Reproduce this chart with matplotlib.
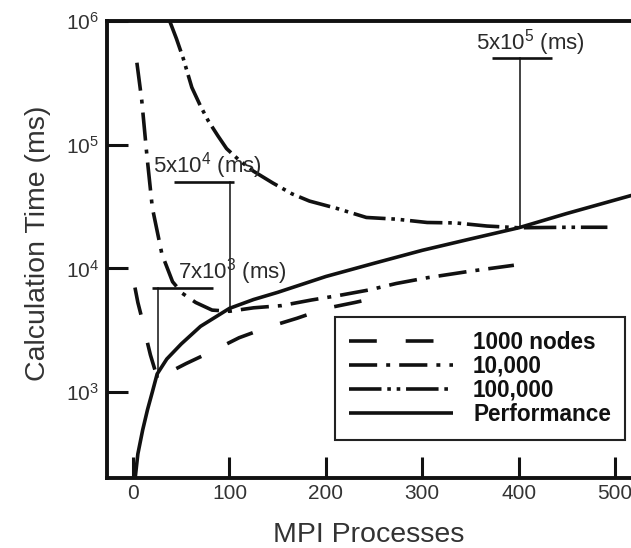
import matplotlib
matplotlib.use("Agg")
import matplotlib.pyplot as plt
from matplotlib.ticker import NullLocator, LogFormatterMathtext

plt.rcParams['font.family'] = ['Liberation Sans', 'DejaVu Sans']
plt.rcParams['mathtext.fontset'] = 'custom'
plt.rcParams['mathtext.rm'] = 'Liberation Sans'
plt.rcParams['mathtext.it'] = 'Liberation Sans'

# ---- data ----
procs_1k = [2, 5, 9, 13, 18, 25, 40, 55, 80, 110, 140, 170, 200, 230, 255]
time_1k = [7000, 5300, 4000, 2900, 2000, 1320, 1480, 1700, 2100, 2750, 3350, 3950, 4750, 5300, 5850]

procs_10k = [4, 9, 14.5, 20, 30, 41, 51, 65, 82, 100, 125, 154, 185, 214, 245, 273, 305, 350, 395]
time_10k = [460000, 230000, 80000, 31000, 13000, 7800, 6300, 5300, 4600, 4500, 4800, 5000, 5550,
            6050, 6700, 7550, 8400, 9500, 10600]

procs_100k = [38, 45, 52, 61, 70, 78, 88, 97, 110, 125, 145, 165, 183, 211, 242, 273, 305, 335,
              367, 400, 450, 492]
time_100k = [1000000, 720000, 500000, 290000, 205000, 156000, 118000, 93000, 75000, 61000, 49000,
             40000, 35000, 30600, 25800, 25000, 23500, 23300, 22000, 21300, 21500, 21500]

procs_perf = [2, 5, 10, 15, 20, 25, 35, 50, 70, 100, 125, 150, 200, 250, 300, 350, 400, 450, 520]
time_perf = [195, 316, 494, 720, 1000, 1400, 1850, 2450, 3400, 4750, 5600, 6400, 8600, 11000,
             14000, 17300, 21300, 27800, 39500]

series_labels = ['1000 nodes', '10,000', '100,000', 'Performance']

# annotations: label, bar y value, bar x range, vertical x, vertical bottom, text x
ann_labels = ['7x10$^3$ (ms)', '5x10$^4$ (ms)', '5x10$^5$ (ms)']
ann_bar_y = [7000, 50000, 500000]
ann_bar_x0 = [20, 43, 372]
ann_bar_x1 = [83, 105, 434]
ann_vert_x = [26, 101, 401]
ann_vert_bottom = [1320, 4500, 21300]
ann_text_x = [47, 21, 356]

x_ticks = [0, 100, 200, 300, 400, 500]
y_ticks = [1e3, 1e4, 1e5, 1e6]

# ---- figure ----
W, H = 631, 548
fig = plt.figure(figsize=(W / 100, H / 100), dpi=100)
ax = fig.add_axes([107 / W, 1 - 478 / H, (673 - 107) / W, (478 - 21) / H])

ink = '#111111'
lw = 2.6
l1, = ax.plot(procs_1k, time_1k, color=ink, lw=lw, dashes=(7.7, 8))
l2, = ax.plot(procs_10k, time_10k, color=ink, lw=lw, dashes=(7.8, 2.5, 1.1, 2.5))
l3, = ax.plot(procs_100k, time_100k, color=ink, lw=lw, dashes=(9, 1.6, 1, 1.6, 1, 1.6))
l4, = ax.plot(procs_perf, time_perf, color=ink, lw=lw, solid_capstyle='butt')

for lab, by, bx0, bx1, vx, vb, tx in zip(ann_labels, ann_bar_y, ann_bar_x0, ann_bar_x1,
                                          ann_vert_x, ann_vert_bottom, ann_text_x):
    ax.plot([bx0, bx1], [by, by], color=ink, lw=1.9, solid_capstyle='butt')
    ax.plot([vx, vx], [by, vb], color=ink, lw=1.1)
    ax.annotate(lab, xy=(tx, by), xytext=(0, 6.5), textcoords='offset points',
                ha='left', va='baseline', fontsize=16, color='#2a2a2a')

ax.set_yscale('log')
ax.set_xlim(-27, 560)
ax.set_ylim(202, 1e6)
ax.set_xticks(x_ticks)
ax.set_yticks(y_ticks)
ax.yaxis.set_minor_locator(NullLocator())
ax.yaxis.set_major_formatter(LogFormatterMathtext())
ax.tick_params(direction='in', length=15, width=2.2, labelsize=15, colors=ink,
               labelcolor='#333333')
ax.tick_params(axis='y', pad=6)
ax.tick_params(axis='x', pad=4)
for s in ['left', 'bottom', 'top']:
    ax.spines[s].set_linewidth(2.8)
    ax.spines[s].set_color(ink)
ax.spines['right'].set_visible(False)

fig.text(369 / W, 1 - 542 / H, 'MPI Processes', ha='center', va='baseline',
         fontsize=20.5, color='#333333')
fig.text(45 / W, 1 - 243.5 / H, 'Calculation Time (ms)', ha='center', va='baseline',
         rotation=90, rotation_mode='anchor', fontsize=20.5, color='#333333')

leg = ax.legend([l1, l2, l3, l4], series_labels, loc='upper left',
                bbox_to_anchor=(335 / W, 1 - 317 / H), bbox_transform=fig.transFigure,
                prop={'weight': 'bold', 'size': 16.3}, handlelength=4.6,
                handletextpad=0.88, labelspacing=0.04, borderpad=0.62,
                borderaxespad=0, fancybox=False, framealpha=1, edgecolor='#222222')
leg.get_frame().set_linewidth(1.5)
for t in leg.get_texts():
    t.set_color('#111111')

fig.savefig('out.png', dpi=100)
